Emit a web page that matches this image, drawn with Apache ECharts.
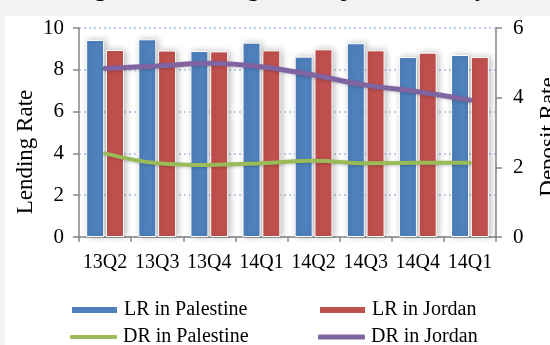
<!DOCTYPE html>
<html>
<head>
<meta charset="utf-8">
<script src="https://cdn.jsdelivr.net/npm/echarts@6/dist/echarts.min.js"></script>
<style>
  html, body { margin: 0; padding: 0; background: #f2f2f2; }
  #chart { width: 550px; height: 345px; }
</style>
</head>
<body>
<div id="chart"></div>
<script>
// Quarterly lending and deposit rates (percent)
const quarters = ['13Q2', '13Q3', '13Q4', '14Q1', '14Q2', '14Q3', '14Q4', '14Q1'];
const lrPalestine = [9.43, 9.46, 8.90, 9.30, 8.63, 9.27, 8.61, 8.71];
const lrJordan    = [8.95, 8.92, 8.88, 8.93, 8.98, 8.93, 8.82, 8.61];
const drPalestine = [2.40, 2.12, 2.07, 2.12, 2.19, 2.12, 2.13, 2.13];
const drJordan    = [4.84, 4.91, 4.99, 4.89, 4.65, 4.36, 4.17, 3.93];
const leftTicks = { min: 0, max: 10, interval: 2 };
const rightTicks = { min: 0, max: 6, interval: 2 };

const FONT = "'Liberation Serif', 'DejaVu Serif', serif";
const AXIS_GREY = '#868686';

const chart = echarts.init(document.getElementById('chart'), null, { renderer: 'canvas' });

const barShadow = {
  borderColor: '#ffffff',
  borderWidth: 1,
  shadowColor: 'rgba(0,0,0,0.25)',
  shadowBlur: 6,
  shadowOffsetX: 2,
  shadowOffsetY: 0
};

function legendAt(name, left, top, icon, h) {
  return {
    data: [{ name: name, icon: icon }],
    left: left, top: top,
    itemWidth: 47, itemHeight: h, itemGap: 0,
    padding: 0,
    textStyle: { fontFamily: FONT, fontSize: 20, color: '#000', padding: [0, 0, 0, 1] },
    selectedMode: false
  };
}

chart.setOption({
  backgroundColor: '#f2f2f2',
  animation: false,
  textStyle: { fontFamily: FONT },
  graphic: [
    { type: 'rect', z: -10, shape: { x: 5, y: 16, width: 545, height: 329 }, style: { fill: '#ffffff' } },
    {
      type: 'text', left: 72, top: -24,
      style: { text: 'Figure 2: Lending and Deposit Rates by Year', font: "26px " + FONT, fill: '#000' }
    },
    {
      type: 'text', x: 26, y: 152, rotation: Math.PI / 2,
      style: { text: 'Lending Rate', font: "23px " + FONT, fill: '#000', align: 'center', verticalAlign: 'middle' }
    },
    {
      type: 'text', x: 549, y: 137, rotation: Math.PI / 2,
      style: { text: 'Deposit Rate', font: "23px " + FONT, fill: '#000', align: 'center', verticalAlign: 'middle' }
    }
  ],
  legend: [
    legendAt('LR in Palestine', 70, 300, 'rect', 8),
    legendAt('LR in Jordan', 318, 300, 'rect', 8),
    legendAt('DR in Palestine', 70, 327, 'roundRect', 4),
    legendAt('DR in Jordan', 318, 327, 'roundRect', 5)
  ],
  grid: { left: 79, right: 54, top: 28, bottom: 108, containLabel: false },
  xAxis: {
    type: 'category',
    data: quarters,
    boundaryGap: true,
    axisLine: { lineStyle: { color: AXIS_GREY, width: 1.5 } },
    axisTick: { show: true, length: 5, lineStyle: { color: AXIS_GREY, width: 1.5 } },
    axisLabel: { fontFamily: FONT, fontSize: 20, color: '#000', margin: 16, interval: 0, hideOverlap: false }
  },
  yAxis: [
    {
      type: 'value', position: 'left',
      min: leftTicks.min, max: leftTicks.max, interval: leftTicks.interval,
      axisLine: { show: true, lineStyle: { color: AXIS_GREY, width: 1.5 } },
      axisTick: { show: true, length: 6, lineStyle: { color: AXIS_GREY, width: 1.5 } },
      axisLabel: { fontFamily: FONT, fontSize: 21, color: '#000', margin: 15 },
      splitLine: { show: true, lineStyle: { color: '#a9c2e6', type: [2, 3], width: 1.5 } }
    },
    {
      type: 'value', position: 'right',
      min: rightTicks.min, max: rightTicks.max, interval: rightTicks.interval,
      axisLine: { show: true, lineStyle: { color: AXIS_GREY, width: 1.5 } },
      axisTick: { show: true, length: 6, lineStyle: { color: AXIS_GREY, width: 1.5 } },
      axisLabel: { fontFamily: FONT, fontSize: 21, color: '#000', margin: 17 },
      splitLine: { show: false }
    }
  ],
  series: [
    {
      name: 'LR in Palestine', type: 'bar', yAxisIndex: 0,
      data: lrPalestine, barWidth: 18, barGap: '10%',
      itemStyle: Object.assign({ color: '#4f81bd' }, barShadow)
    },
    {
      name: 'LR in Jordan', type: 'bar', yAxisIndex: 0,
      data: lrJordan, barWidth: 18, barGap: '10%',
      itemStyle: Object.assign({ color: '#c0504d' }, barShadow)
    },
    {
      name: 'DR in Palestine', type: 'line', yAxisIndex: 1,
      data: drPalestine, smooth: 0.4, symbol: 'none',
      lineStyle: { color: '#9bbb59', width: 4, cap: 'round', shadowColor: 'rgba(0,0,0,0.2)', shadowBlur: 3, shadowOffsetY: 1 },
      itemStyle: { color: '#9bbb59' }
    },
    {
      name: 'DR in Jordan', type: 'line', yAxisIndex: 1,
      data: drJordan, smooth: 0.4, symbol: 'none',
      lineStyle: { color: '#8064a2', width: 5, cap: 'round', shadowColor: 'rgba(0,0,0,0.2)', shadowBlur: 3, shadowOffsetY: 1 },
      itemStyle: { color: '#8064a2' }
    }
  ]
});
</script>
</body>
</html>
